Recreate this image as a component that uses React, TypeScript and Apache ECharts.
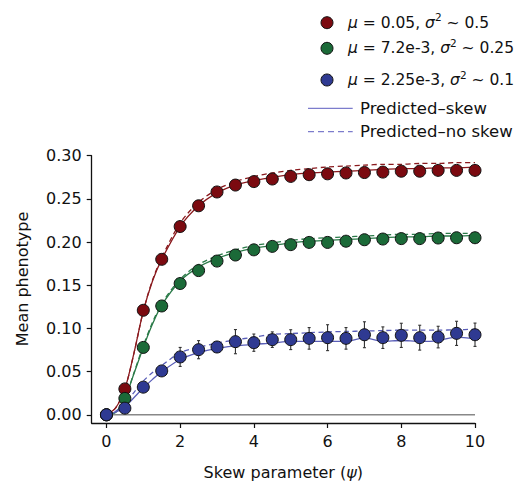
import React, { useEffect, useRef } from "react";
import * as echarts from "echarts";

const obsX = [0, 0.5, 1, 1.5, 2, 2.5, 3, 3.5, 4, 4.5, 5, 5.5, 6, 6.5, 7, 7.5, 8, 8.5, 9, 9.5, 10];
const redObs = [0, 0.03, 0.121, 0.18, 0.218, 0.242, 0.258, 0.266, 0.27, 0.273, 0.276, 0.278, 0.279, 0.28, 0.2805, 0.281, 0.282, 0.282, 0.283, 0.283, 0.283];
const greenObs = [0, 0.019, 0.078, 0.126, 0.152, 0.167, 0.178, 0.185, 0.191, 0.195, 0.197, 0.1996, 0.1996, 0.201, 0.2027, 0.2035, 0.204, 0.204, 0.2047, 0.205, 0.205];
const blueObs = [0, 0.0077, 0.032, 0.0508, 0.067, 0.0754, 0.0785, 0.0847, 0.0835, 0.087, 0.087, 0.0885, 0.0893, 0.0885, 0.0927, 0.0893, 0.092, 0.0893, 0.09, 0.0943, 0.0927];
const blueErr = [0, 0.002, 0.003, 0.004, 0.011, 0.0105, 0.006, 0.014, 0.01, 0.009, 0.0115, 0.0125, 0.015, 0.0125, 0.015, 0.0125, 0.014, 0.0144, 0.0125, 0.014, 0.0135];

const predX = [0, 0.25, 0.5, 0.75, 1, 1.25, 1.5, 2, 2.5, 3, 3.5, 4, 4.5, 5, 5.5, 6, 6.5, 7, 7.5, 8, 8.5, 9, 9.5, 10];
const redSkew = [0, 0.008, 0.03, 0.072, 0.12, 0.155, 0.18, 0.218, 0.242, 0.257, 0.266, 0.271, 0.275, 0.278, 0.28, 0.281, 0.282, 0.283, 0.284, 0.285, 0.285, 0.286, 0.286, 0.287];
const redNoSkew = [0, 0.008, 0.03, 0.072, 0.12, 0.156, 0.182, 0.222, 0.246, 0.261, 0.27, 0.276, 0.28, 0.283, 0.285, 0.287, 0.288, 0.289, 0.29, 0.29, 0.291, 0.291, 0.292, 0.292];
const greenSkew = [0, 0.003, 0.019, 0.048, 0.078, 0.105, 0.127, 0.155, 0.171, 0.181, 0.188, 0.193, 0.196, 0.199, 0.201, 0.202, 0.203, 0.204, 0.205, 0.206, 0.206, 0.207, 0.207, 0.208];
const greenNoSkew = [0, 0.003, 0.019, 0.049, 0.08, 0.107, 0.129, 0.157, 0.174, 0.184, 0.191, 0.196, 0.199, 0.202, 0.204, 0.205, 0.206, 0.207, 0.208, 0.209, 0.209, 0.21, 0.21, 0.21];
const blueSkew = [0, 0.003, 0.009, 0.02, 0.031, 0.041, 0.05, 0.064, 0.072, 0.077, 0.0797, 0.0816, 0.083, 0.085, 0.085, 0.085, 0.085, 0.089, 0.085, 0.086, 0.085, 0.086, 0.09, 0.088];
const blueNoSkew = [0, 0.004, 0.013, 0.026, 0.039, 0.049, 0.057, 0.072, 0.078, 0.083, 0.0866, 0.09, 0.093, 0.094, 0.095, 0.096, 0.0965, 0.097, 0.0975, 0.098, 0.098, 0.098, 0.0985, 0.099];

const xTicks = [0, 2, 4, 6, 8, 10];
const yTicks = [0, 0.05, 0.1, 0.15, 0.2, 0.25, 0.3];

const FONT = "DejaVu Sans";
const RED = "#7b0a10";
const GREEN = "#1b6a38";
const BLUE = "#2f3a92";
const RED_LINE = "#8a1a1e";
const GREEN_LINE = "#2a7a48";
const BLUE_LINE = "#5a5eb8";
const LEGEND_LINE = "#7c7ccc";

const pairs = (xs: number[], ys: number[]) => xs.map((x, i) => [x, ys[i]]);

export default function App() {
  const ref = useRef<HTMLDivElement>(null);
  useEffect(() => {
    if (!ref.current) return;
    const chart = echarts.init(ref.current, null, { renderer: "svg" });

    const lineSeries = (data: number[][], color: string, dashed: boolean) => ({
      type: "line",
      data,
      smooth: 0.3,
      symbol: "none",
      silent: true,
      lineStyle: { color, width: 1.3, type: dashed ? [5, 3.5] : "solid" },
      z: 2,
    });
    const scatter = (data: number[][], color: string, z: number) => ({
      type: "scatter",
      data,
      symbolSize: 12,
      itemStyle: { color, borderColor: "#111", borderWidth: 1, opacity: 1 },
      z,
    });

    const legendRow = (y: number, color: string, mu: string, sig: string) => [
      {
        type: "circle",
        shape: { cx: 327, cy: y, r: 6 },
        style: { fill: color, stroke: "#111", lineWidth: 1 },
      },
      {
        type: "text",
        x: 348,
        y,
        style: {
          text: `{m|μ}{t| = ${mu}, }{m|σ}{s|2}{t| ~ ${sig}}`,
          verticalAlign: "middle",
          align: "left",
          rich: {
            m: { fontFamily: FONT, fontSize: 15.5, fontStyle: "italic", fill: "#111", lineHeight: 22, verticalAlign: "middle" },
            t: { fontFamily: FONT, fontSize: 15.5, fill: "#111", lineHeight: 22, verticalAlign: "middle" },
            s: { fontFamily: FONT, fontSize: 10.5, fill: "#111", lineHeight: 12, verticalAlign: "top" },
          },
        },
      },
    ];

    const option = {
      animation: false,
      grid: { left: 91.7, right: 47, top: 155.7, bottom: 60.7, containLabel: false },
      xAxis: {
        type: "value",
        min: -0.4,
        max: 10,
        name: "Skew parameter ({i|ψ})",
        nameLocation: "middle",
        nameGap: 41,
        nameTextStyle: {
          fontFamily: FONT,
          fontSize: 16,
          color: "#111",
          rich: { i: { fontFamily: FONT, fontSize: 16, fontStyle: "italic", color: "#111" } },
        },
        splitLine: { show: false },
        axisLine: { show: true, onZero: false, lineStyle: { color: "#111", width: 1.3 } },
        axisTick: { show: true, customValues: xTicks, length: 5, lineStyle: { color: "#111", width: 1.2 } },
        axisLabel: {
          customValues: xTicks,
          margin: 10,
          fontFamily: FONT,
          fontSize: 16,
          color: "#111",
        },
      },
      yAxis: {
        type: "value",
        min: -0.0095,
        max: 0.3,
        splitLine: { show: false },
        axisLine: { show: true, onZero: false, lineStyle: { color: "#111", width: 1.3 } },
        axisTick: { show: true, customValues: yTicks, length: 5, lineStyle: { color: "#111", width: 1.2 } },
        axisLabel: {
          customValues: yTicks,
          margin: 10,
          fontFamily: FONT,
          fontSize: 16,
          color: "#111",
          formatter: (v: number) => v.toFixed(2),
        },
      },
      graphic: [
        {
          type: "text",
          x: 22,
          y: 279,
          rotation: Math.PI / 2,
          style: {
            text: "Mean phenotype",
            fontFamily: FONT,
            fontSize: 16,
            fill: "#111",
            align: "center",
            verticalAlign: "middle",
          },
        },
        ...legendRow(22.7, RED, "0.05", "0.5"),
        ...legendRow(48.3, GREEN, "7.2e-3", "0.25"),
        ...legendRow(80, BLUE, "2.25e-3", "0.1"),
        {
          type: "line",
          shape: { x1: 308, y1: 108.3, x2: 352.7, y2: 108.3 },
          style: { stroke: LEGEND_LINE, lineWidth: 1.2 },
        },
        {
          type: "text",
          x: 360,
          y: 108.3,
          style: { text: "Predicted–skew", fontFamily: FONT, fontSize: 16.5, fill: "#111", verticalAlign: "middle" },
        },
        {
          type: "line",
          shape: { x1: 308, y1: 131.7, x2: 352.7, y2: 131.7 },
          style: { stroke: LEGEND_LINE, lineWidth: 1.2, lineDash: [6, 4] },
        },
        {
          type: "text",
          x: 360,
          y: 131.7,
          style: { text: "Predicted–no skew", fontFamily: FONT, fontSize: 16.5, fill: "#111", verticalAlign: "middle" },
        },
      ],
      series: [
        {
          type: "line",
          data: [[0, 0], [10, 0]],
          symbol: "none",
          silent: true,
          lineStyle: { color: "#888", width: 1.6 },
          z: 1,
        },
        lineSeries(pairs(predX, redSkew), RED_LINE, false),
        lineSeries(pairs(predX, redNoSkew), RED_LINE, true),
        lineSeries(pairs(predX, greenSkew), GREEN_LINE, false),
        lineSeries(pairs(predX, greenNoSkew), GREEN_LINE, true),
        lineSeries(pairs(predX, blueSkew), BLUE_LINE, false),
        lineSeries(pairs(predX, blueNoSkew), BLUE_LINE, true),
        {
          type: "custom",
          data: obsX.map((x, i) => [x, blueObs[i] - blueErr[i], blueObs[i] + blueErr[i]]),
          z: 3,
          silent: true,
          renderItem: (_params: any, api: any) => {
            const lo = api.coord([api.value(0), api.value(1)]);
            const hi = api.coord([api.value(0), api.value(2)]);
            const st = { stroke: "#333", lineWidth: 1.1 };
            return {
              type: "group",
              children: [
                { type: "line", shape: { x1: lo[0], y1: lo[1], x2: hi[0], y2: hi[1] }, style: st },
                { type: "line", shape: { x1: lo[0] - 1.5, y1: lo[1], x2: lo[0] + 1.5, y2: lo[1] }, style: st },
                { type: "line", shape: { x1: hi[0] - 1.5, y1: hi[1], x2: hi[0] + 1.5, y2: hi[1] }, style: st },
              ],
            };
          },
        },
        scatter(pairs(obsX, redObs), RED, 4),
        scatter(pairs(obsX, greenObs), GREEN, 5),
        scatter(pairs(obsX, blueObs), BLUE, 6),
      ],
    };
    chart.setOption(option as any);
    return () => chart.dispose();
  }, []);
  return (
    <div
      ref={ref}
      style={{ position: "absolute", left: 0, top: 0, width: 522, height: 485, background: "#fff" }}
    />
  );
}
